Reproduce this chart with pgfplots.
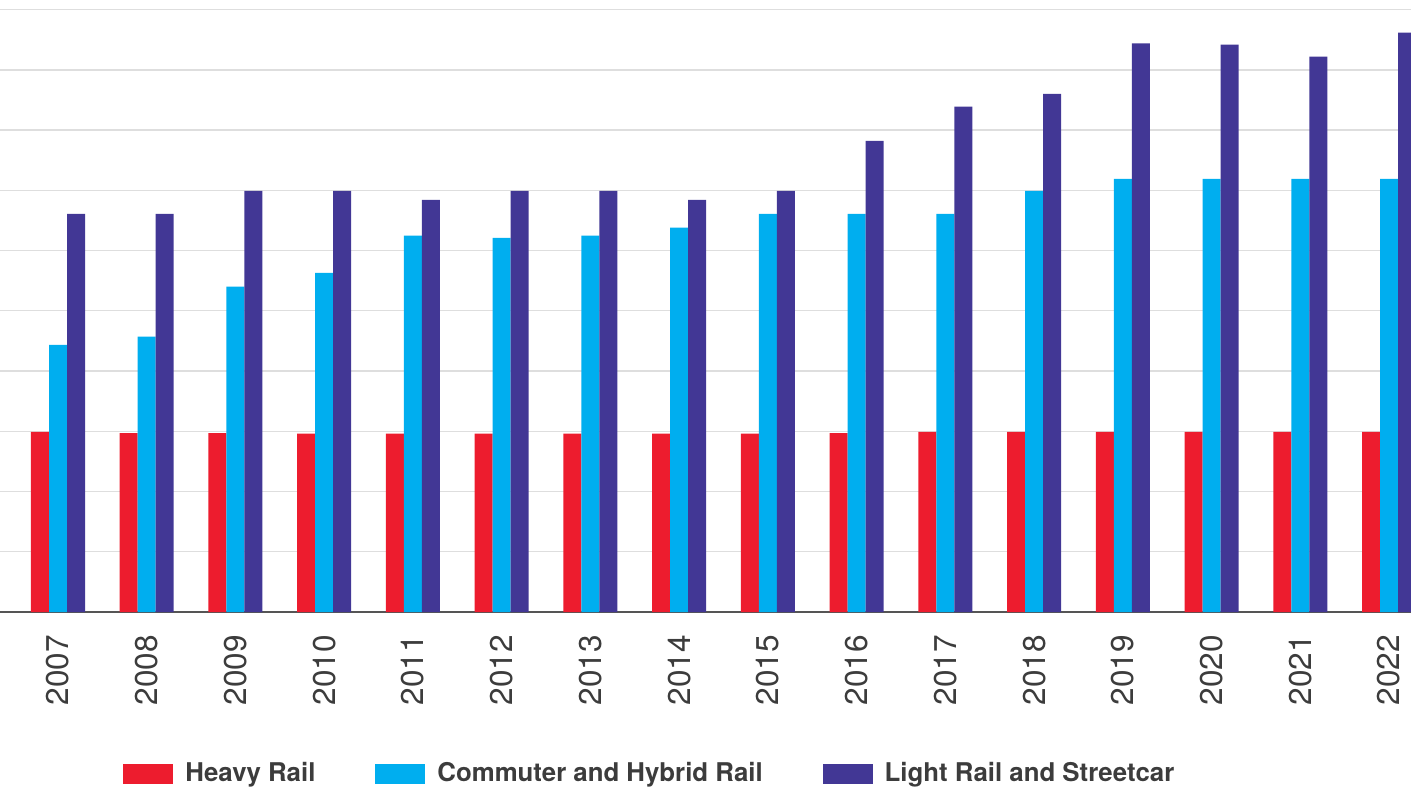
\documentclass[border=0pt]{standalone}
\usepackage{pgfplots}
\pgfplotsset{compat=1.18}
\usepackage{fontspec}
\setmainfont{TeX Gyre Heros}
\definecolor{hr}{HTML}{ED1C2E}
\definecolor{cr}{HTML}{00AEEF}
\definecolor{lr}{HTML}{423795}
\definecolor{tg}{HTML}{3C3C3C}
\definecolor{gl}{HTML}{DEDEDE}
\definecolor{bl}{HTML}{555555}
\begin{document}
\begin{tikzpicture}
\begin{axis}[
  scale only axis,
  width=705.5pt, height=306pt,
  xmin=-0.6537, xmax=15.248,
  ymin=0, ymax=10.16,
  axis x line*=bottom,
  axis y line*=left,
  x axis line style={draw=bl, line width=0.7pt, -},
  y axis line style={draw=none},
  ytick={1,2,...,10},
  yticklabels={},
  ytick style={draw=none},
  ymajorgrids,
  grid style={draw=gl, line width=0.65pt},
  xtick={0,1,...,15},
  xticklabels={2007,2008,2009,2010,2011,2012,2013,2014,2015,2016,2017,2018,2019,2020,2021,2022},
  xtick style={draw=none},
  major tick length=0pt,
  xticklabel style={rotate=90, anchor=east, inner sep=0pt, text=tg, font=\fontsize{15.75}{18}\selectfont},
  xticklabel shift=11.5pt,
  /pgf/number format/assume math mode=true,
  ybar=0pt,
  bar width=0.2029,
  legend columns=3,
  legend style={at={(rel axis cs:0.0872,-0.264)}, anchor=west, draw=none, fill=none, inner sep=0pt,
    font=\bfseries\fontsize{12.9}{14}\selectfont, text=tg,
    nodes={inner sep=0pt},
    /tikz/every odd column/.append style={column sep=6pt},
    /tikz/every even column/.append style={column sep=30pt}},
]
\addplot[fill=hr, draw=none, bar shift=-0.2029, legend image code/.code={\fill[hr] (0pt,-5pt) rectangle (25pt,5pt);}] coordinates {
(0,2.99) (1,2.97) (2,2.97) (3,2.96) (4,2.96) (5,2.96) (6,2.96) (7,2.96)
(8,2.96) (9,2.97) (10,2.99) (11,2.99) (12,2.99) (13,2.99) (14,2.99) (15,2.99)};
\addlegendentry{Heavy Rail}
\addplot[fill=cr, draw=none, bar shift=0, legend image code/.code={\fill[cr] (0pt,-5pt) rectangle (25pt,5pt);}] coordinates {
(0,4.435) (1,4.57) (2,5.40) (3,5.63) (4,6.25) (5,6.21) (6,6.25) (7,6.38)
(8,6.61) (9,6.61) (10,6.61) (11,6.99) (12,7.19) (13,7.19) (14,7.19) (15,7.19)};
\addlegendentry{Commuter and Hybrid Rail}
\addplot[fill=lr, draw=none, bar shift=0.2029, legend image code/.code={\fill[lr] (0pt,-5pt) rectangle (25pt,5pt);}] coordinates {
(0,6.61) (1,6.61) (2,6.99) (3,6.99) (4,6.84) (5,6.99) (6,6.99) (7,6.84)
(8,6.99) (9,7.82) (10,8.39) (11,8.60) (12,9.44) (13,9.42) (14,9.22) (15,9.62)};
\addlegendentry{Light Rail and Streetcar}
\coordinate (bbsw) at (rel axis cs:0,0);
\coordinate (bbne) at (rel axis cs:1,1);
\end{axis}
\pgfresetboundingbox
\useasboundingbox ([yshift=-87.5pt]bbsw) rectangle (bbne);
\end{tikzpicture}
\end{document}
